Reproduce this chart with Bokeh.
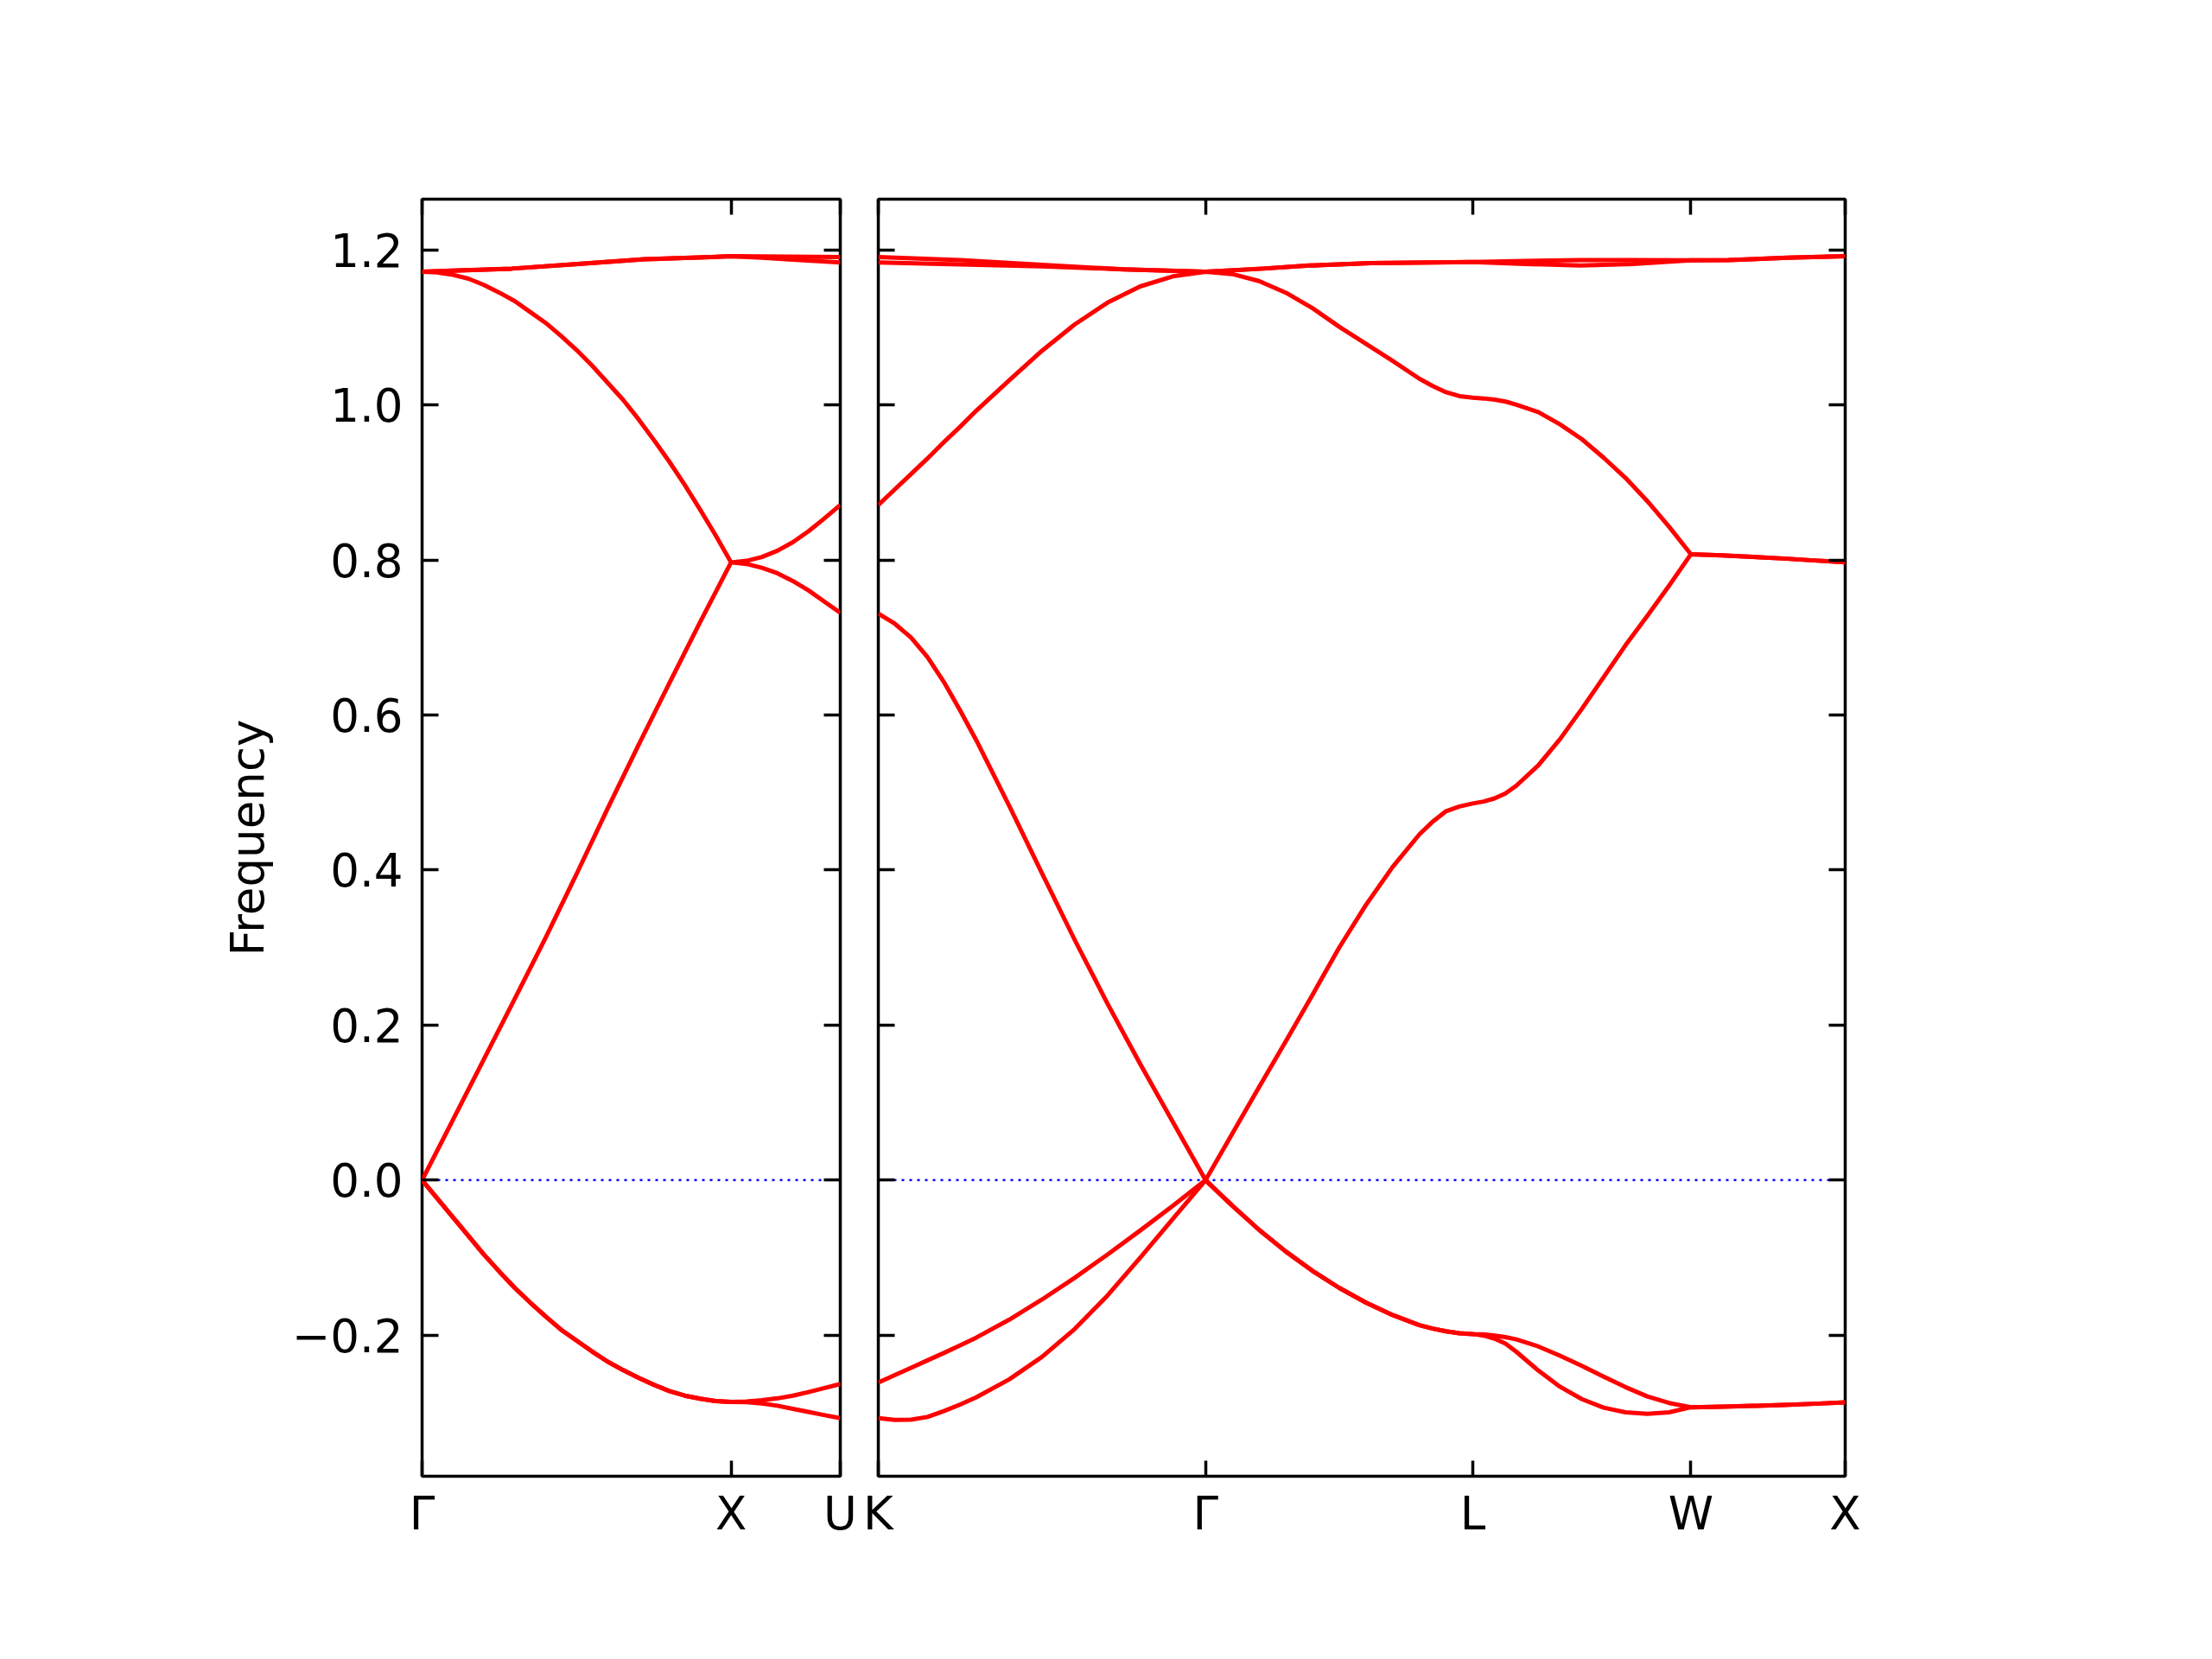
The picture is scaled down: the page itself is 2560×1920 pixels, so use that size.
from bokeh.plotting import figure
from bokeh.layouts import row
from bokeh.models import Range1d, LinearAxis, FixedTicker, CustomJSTickFormatter, Span
from bokeh.embed import file_html
from bokeh.resources import INLINE

# ---------------- tick positions / labels ----------------
left_tick_pos = [0.0, 1.0, 1.3536]
left_tick_lab = ["Γ", "X", "U"]
right_tick_pos = [1.3536, 2.4142, 3.2802, 3.9873, 4.4873]
right_tick_lab = ["K", "Γ", "L", "W", "X"]
y_tick_pos = [-0.2, 0.0, 0.2, 0.4, 0.6, 0.8, 1.0, 1.2]
y_tick_lab = ["−0.2", "0.0", "0.2", "0.4", "0.6", "0.8", "1.0", "1.2"]
y_lo, y_hi = -0.382, 1.2656
fermi_level = 0.0
y_label = "Frequency"

# ---------------- left panel bands (Γ - X - U) ----------------
l_top1_k = [0.0, 0.29, 0.505, 0.72, 0.936, 1.0, 1.18, 1.3536]
l_top1_f = [1.172, 1.176, 1.182, 1.188, 1.191, 1.192, 1.1915, 1.191]
l_top2_k = [0.0, 0.29, 0.505, 0.72, 0.936, 1.0, 1.1, 1.2, 1.3536]
l_top2_f = [1.172, 1.176, 1.182, 1.188, 1.191, 1.192, 1.190, 1.1875, 1.184]

l_b_k = [0.0, 0.05, 0.1, 0.15, 0.2, 0.25, 0.3, 0.35, 0.4, 0.45, 0.5, 0.55, 0.6, 0.65,
         0.7, 0.75, 0.8, 0.85, 0.9, 0.95, 1.0, 1.05, 1.1, 1.15, 1.2, 1.25, 1.3, 1.3536]
l_b_f = [1.172, 1.171, 1.168, 1.163, 1.155, 1.145, 1.134, 1.120, 1.106, 1.089, 1.071,
         1.051, 1.029, 1.007, 0.982, 0.955, 0.927, 0.897, 0.865, 0.832, 0.797,
         0.795, 0.790, 0.783, 0.773, 0.761, 0.747, 0.732]

l_c_k = [0.0, 0.1, 0.2, 0.3, 0.4, 0.5, 0.6, 0.7, 0.8, 0.9, 1.0,
         1.05, 1.1, 1.15, 1.2, 1.25, 1.3, 1.3536]
l_c_f = [0.0, 0.078, 0.156, 0.234, 0.313, 0.395, 0.479, 0.561, 0.641, 0.720, 0.797,
         0.799, 0.804, 0.812, 0.823, 0.837, 0.853, 0.871]

l_d_k = [0.0, 0.05, 0.1, 0.15, 0.2, 0.25, 0.3, 0.35, 0.4, 0.45, 0.5, 0.55, 0.6, 0.65,
         0.7, 0.75, 0.8, 0.85, 0.9, 0.95, 1.0, 1.05, 1.1, 1.15, 1.2, 1.25, 1.3, 1.3536]
l_d1_f = [0.0, -0.024, -0.048, -0.072, -0.096, -0.118, -0.139, -0.158, -0.176, -0.193,
          -0.207, -0.221, -0.234, -0.245, -0.255, -0.264, -0.272, -0.278, -0.282, -0.285,
          -0.286, -0.2855, -0.284, -0.2815, -0.278, -0.2735, -0.2685, -0.263]
l_d2_f = [0.0, -0.024, -0.048, -0.072, -0.096, -0.118, -0.139, -0.158, -0.176, -0.193,
          -0.207, -0.221, -0.234, -0.245, -0.255, -0.264, -0.272, -0.278, -0.282, -0.285,
          -0.286, -0.2865, -0.288, -0.291, -0.295, -0.299, -0.303, -0.307]

# ---------------- right panel bands (K - Γ - L - W - X) ----------------
r_top_k = [1.3536, 1.6188, 1.8839, 2.1491, 2.4142, 2.60, 2.75, 2.95, 3.2802, 3.45, 3.63,
           3.80, 3.9873, 4.109, 4.30, 4.4873]
r_top1_f = [1.191, 1.187, 1.181, 1.175, 1.172, 1.176, 1.180, 1.183, 1.1845, 1.186, 1.187,
            1.187, 1.1866, 1.187, 1.190, 1.192]
r_top2_f = [1.184, 1.1815, 1.179, 1.175, 1.172, 1.176, 1.180, 1.183, 1.1845, 1.182, 1.180,
            1.182, 1.1866, 1.187, 1.190, 1.192]

# sample positions: K -> Γ, Γ -> L, L -> W, W -> X
r_kg_k = [1.3536, 1.4066, 1.4597, 1.5127, 1.5657, 1.6188, 1.6718, 1.7779, 1.8840,
          1.9900, 2.0961, 2.2022, 2.3082]
r_gl_k = [2.4142, 2.5008, 2.5874, 2.6740, 2.7606, 2.8472, 2.9338, 3.0204, 3.1070,
          3.1503, 3.1936, 3.2369]
r_lw_k = [3.2802, 3.3156, 3.3509, 3.3863, 3.4216, 3.4923, 3.5630, 3.6338, 3.7045,
          3.7752, 3.8459, 3.9166]
r_wx_k = [3.9873, 4.0873, 4.1873, 4.2873, 4.3873, 4.4873]

r_b_f = [0.871, 0.891, 0.911, 0.931, 0.952, 0.972, 0.993, 1.032, 1.070, 1.104, 1.132,
         1.153, 1.166,
         1.172, 1.169, 1.160, 1.145, 1.125, 1.101, 1.079, 1.057, 1.034, 1.0245, 1.0165,
         1.0115,
         1.0095, 1.0085, 1.007, 1.0045, 1.0005, 0.991, 0.975, 0.956, 0.932, 0.906, 0.876,
         0.843,
         0.8075, 0.806, 0.804, 0.802, 0.7995, 0.797]
r_c_f = [0.731, 0.718, 0.700, 0.675, 0.643, 0.606, 0.567, 0.483, 0.396, 0.310, 0.228,
         0.150, 0.075,
         0.0, 0.060, 0.120, 0.179, 0.239, 0.300, 0.355, 0.404, 0.446, 0.4625, 0.476,
         0.482,
         0.486, 0.4885, 0.4925, 0.499, 0.509, 0.535, 0.569, 0.608, 0.649, 0.690, 0.728,
         0.767,
         0.8075, 0.806, 0.804, 0.802, 0.7995, 0.797]
r_d1_f = [-0.261, -0.2515, -0.242, -0.2325, -0.223, -0.213, -0.203, -0.180, -0.154,
          -0.126, -0.096, -0.065, -0.033,
          0.0, -0.033, -0.064, -0.092, -0.117, -0.139, -0.158, -0.174, -0.187, -0.1915,
          -0.195, -0.1975,
          -0.1985, -0.199, -0.2005, -0.2025, -0.2055, -0.2145, -0.2265, -0.2395, -0.2535,
          -0.2670, -0.2790, -0.2875,
          -0.293, -0.2922, -0.2912, -0.2900, -0.2885, -0.2867]
r_d2_f = [-0.307, -0.3092, -0.309, -0.3055, -0.298, -0.2895, -0.280, -0.257, -0.228,
          -0.192, -0.149, -0.100, -0.050,
          0.0, -0.033, -0.064, -0.092, -0.117, -0.139, -0.158, -0.174, -0.187, -0.1915,
          -0.195, -0.1975,
          -0.1985, -0.2005, -0.2045, -0.211, -0.2215, -0.2455, -0.2665, -0.2825, -0.2935,
          -0.2995, -0.3015, -0.2995,
          -0.293, -0.2922, -0.2912, -0.2900, -0.2885, -0.2867]

left_bands = [(l_top1_k, l_top1_f), (l_top2_k, l_top2_f), (l_b_k, l_b_f),
              (l_c_k, l_c_f), (l_d_k, l_d1_f), (l_d_k, l_d2_f)]
r_k = r_kg_k + r_gl_k + r_lw_k + r_wx_k
right_bands = [(r_top_k, r_top1_f), (r_top_k, r_top2_f), (r_k, r_b_f),
               (r_k, r_c_f), (r_k, r_d1_f), (r_k, r_d2_f)]

FONT = "DejaVu Sans"
FSIZE = "53px"


def label_formatter(pos, lab):
    return CustomJSTickFormatter(args=dict(pos=pos, lab=lab), code="""
let b = 0;
for (let i = 0; i < pos.length; i++) {
  if (Math.abs(pos[i] - tick) < Math.abs(pos[b] - tick)) { b = i; }
}
return lab[b];
""")


def blank_formatter():
    return CustomJSTickFormatter(code="return '';")


def style_axis(ax, tick_len):
    ax.axis_line_color = None
    ax.major_tick_in = tick_len
    ax.major_tick_out = 0
    ax.major_tick_line_width = 3.5
    ax.major_tick_line_color = "black"
    ax.minor_tick_line_color = None
    ax.major_label_text_font = FONT
    ax.major_label_text_font_size = FSIZE
    ax.major_label_text_color = "black"


def make_panel(xmin, xmax, width, border_left, border_right, tpos, tlab, bands, show_y):
    p = figure(width=width, height=1904, x_range=Range1d(xmin, xmax),
               y_range=Range1d(y_lo, y_hi), output_backend="svg", toolbar_location=None,
               x_axis_location=None, y_axis_location=None,
               min_border_left=border_left, min_border_right=border_right,
               min_border_top=230, min_border_bottom=196)
    p.grid.grid_line_color = None
    p.outline_line_color = "black"
    p.outline_line_width = 3.5
    p.background_fill_color = "white"
    p.border_fill_color = "white"

    below = LinearAxis(ticker=FixedTicker(ticks=tpos), formatter=label_formatter(tpos, tlab))
    style_axis(below, 18)
    below.major_label_standoff = 12
    above = LinearAxis(ticker=FixedTicker(ticks=tpos), formatter=blank_formatter())
    style_axis(above, 18)
    above.major_label_standoff = 0
    left = LinearAxis(ticker=FixedTicker(ticks=y_tick_pos))
    style_axis(left, 19)
    if show_y:
        left.formatter = label_formatter(y_tick_pos, y_tick_lab)
        left.major_label_standoff = 22
        left.axis_label = y_label
        left.axis_label_text_font = FONT
        left.axis_label_text_font_size = FSIZE
        left.axis_label_text_font_style = "normal"
        left.axis_label_text_color = "black"
        left.axis_label_standoff = 18
    else:
        left.formatter = blank_formatter()
        left.major_label_standoff = 0
    right = LinearAxis(ticker=FixedTicker(ticks=y_tick_pos), formatter=blank_formatter())
    style_axis(right, 19)
    right.major_label_standoff = 0

    p.add_layout(below, "below")
    p.add_layout(above, "above")
    p.add_layout(left, "left")
    p.add_layout(right, "right")

    p.add_layout(Span(location=fermi_level, dimension="width", line_color="blue",
                      line_dash="3 6", line_width=2.5, level="underlay"))
    for k, f in bands:
        p.line(k, f, line_color="red", line_width=5, line_join="round")
    return p


p_left = make_panel(left_tick_pos[0], left_tick_pos[-1], 994, 488, 22,
                    left_tick_pos, left_tick_lab, left_bands, True)
p_right = make_panel(right_tick_pos[0], right_tick_pos[-1], 1550, 22, 409,
                     right_tick_pos, right_tick_lab, right_bands, False)

layout = row(p_left, p_right)
open("out.html", "w").write(file_html(layout, INLINE))
